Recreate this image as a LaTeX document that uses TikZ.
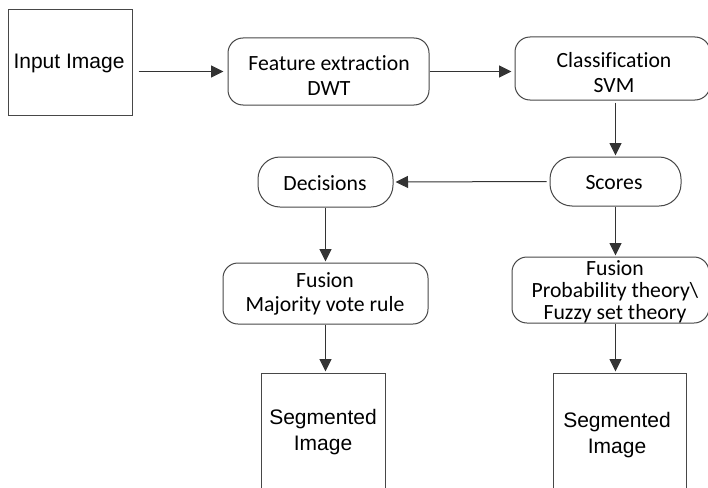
\documentclass[tikz,border=0pt]{standalone}
\usepackage{fontspec}
\setmainfont{Carlito}[Ligatures=NoCommon]
\newfontfamily\arialf{Liberation Sans}
\usetikzlibrary{arrows.meta}
\begin{document}
\begin{tikzpicture}[x=1pt,y=-1pt,
  box/.style={draw=black!72, line width=1pt, inner sep=0pt},
  sqbox/.style={box},
  rbox/.style={box, rounded corners=15pt},
  pill/.style={box, rounded corners=22pt},
  atxt/.style={inner sep=0pt, align=center, text=black, font=\arialf\fontsize{21}{26}\selectfont},
  ctxt/.style={inner sep=0pt, align=center, text=black, font=\fontsize{21.7}{24.5}\selectfont},
  conn/.style={draw=black!80, line width=1pt, -{Triangle[length=12.5pt,width=12pt]}}]
\useasboundingbox (0,0) rectangle (708,487);
\clip (0,0) rectangle (708,487);
\fill[white] (0,0) rectangle (708,487);
% boxes
\node[sqbox, minimum width=124pt, minimum height=105pt] (inp) at (70,62.5) {};
\node[rbox, minimum width=201pt, minimum height=67pt] (fe) at (328.5,71.5) {};
\node[rbox, minimum width=195pt, minimum height=63pt] (cls) at (612.5,68.5) {};
\node[pill, minimum width=131pt, minimum height=49pt] (sco) at (615.5,181.5) {};
\node[pill, minimum width=135pt, minimum height=50pt] (dec) at (325.5,182) {};
\node[rbox, minimum width=205pt, minimum height=61pt] (fusl) at (325.5,293.5) {};
\node[rbox, minimum width=197pt, minimum height=66pt] (fusr) at (610.5,290) {};
\node[sqbox, minimum width=124pt, minimum height=116pt] (segl) at (323,431) {};
\node[sqbox, minimum width=133pt, minimum height=116pt] (segr) at (619.5,431) {};
% texts
\node[atxt] (inpT) at (69,63) {Input Image};
\node[ctxt] (feT) at (329,75.5) {Feature extraction\\DWT};
\node[ctxt] (clsT) at (614,72.5) {Classification\\SVM};
\node[ctxt] (scoT) at (614,183) {Scores};
\node[ctxt] (decT) at (325,183) {Decisions};
\node[ctxt] (fuslT) at (325,294) {Fusion\\Majority vote rule};
\node[ctxt, font=\fontsize{21.7}{22}\selectfont] (fusrT) at (615,292) {Fusion\\Probability theory\textbackslash\\Fuzzy set theory};
\node[atxt] (seglT) at (323,432) {Segmented\\Image};
\node[atxt] (segrT) at (617,435) {Segmented\\Image};
% connectors
\draw[conn, shorten <=6pt, shorten >=4pt] (inp.east |- fe.west) -- (fe.west);
\draw[conn, shorten >=3pt] (fe.east) -- (cls.west |- fe.east);
\draw[conn, shorten <=2pt, shorten >=1pt] (cls.south -| sco.north) -- (sco.north);
\draw[conn, shorten <=3pt, shorten >=2pt] (sco.west) -- (dec.east);
\draw[conn, shorten >=1pt] (dec.south) -- (fusl.north);
\draw[conn, shorten >=1pt] (fusl.south) -- (segl.north -| fusl.south);
\draw[conn, shorten >=1pt] (sco.south) -- (fusr.north -| sco.south);
\draw[conn, shorten >=1pt] (fusr.south -| sco.south) -- (segr.north -| sco.south);
\end{tikzpicture}
\end{document}
